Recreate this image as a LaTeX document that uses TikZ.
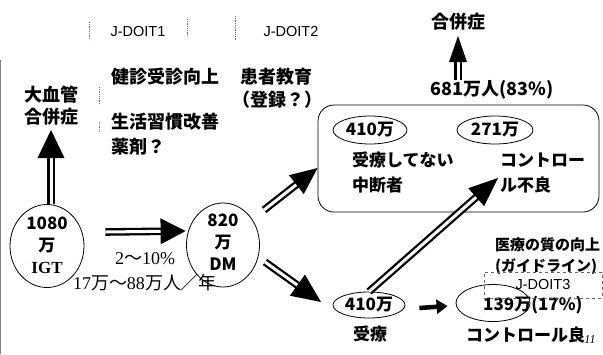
\documentclass[tikz,border=0pt]{standalone}
\usepackage{fontspec}
\setmainfont{Liberation Sans}
\newfontfamily\jp{Noto Sans CJK JP}
\newfontfamily\ser{Liberation Serif}
\usetikzlibrary{shapes.geometric,arrows.meta,calc}
\newcommand\DblArrow[4]{%
  \draw[shaft, shorten >=#3-2pt] (#1) -- (#2);
  \coordinate (tmpB) at ($(#2)!#3!(#1)$);
  \fill (#2) -- ($(tmpB)!#4/2!90:(#2)$) -- ($(tmpB)!#4/2!-90:(#2)$) -- cycle;
}
\begin{document}
\begin{tikzpicture}[x=1pt,y=-1pt,
  jt/.style={font=\jp\bfseries\fontsize{17}{22}\selectfont, inner sep=0pt},
  jl/.style={font=\jp\bfseries\fontsize{18}{22}\selectfont, inner sep=0pt},
  jm/.style={font=\jp\bfseries\fontsize{15}{18}\selectfont, inner sep=0pt},
  lt/.style={font=\fontsize{14.5}{17}\selectfont, inner sep=0pt},
  st/.style={font=\ser\fontsize{18}{20}\selectfont, inner sep=0pt},
  ell/.style={draw, ellipse, line width=0.8pt, inner sep=0pt},
  shaft/.style={draw, line width=2.3pt, double=white, double distance=3pt},
  guide/.style={draw=black!55, densely dotted, line width=0.8pt}
]
\useasboundingbox (0,0) rectangle (603,354);
\draw[black!50, line width=1pt] (0.5,60) -- (0.5,354);

% J-DOIT labels and markers
\node[lt] (jd1) at (138,32) {J-DOIT1};
\node[lt] (jd2) at (291,32) {J-DOIT2};
\draw[guide] (89,22) -- (89,40);
\draw[guide] (187,19) -- (187,37);
\draw[guide] (235,16) -- (235,40);
\draw[guide] (99,87) -- (99,105);
\draw[guide] (99,122) -- (99,132);

% top texts
\node[jl, anchor=west] (kenshin) at (111,77) {健診受診向上};
\node[jl, anchor=west] (seikatsu) at (111,122) {生活習慣改善};
\node[jl, anchor=west] (yakuzai) at (111,147) {薬剤？};
\node[jl, anchor=west] (kanja) at (240,77) {患者教育};
\node[jl, anchor=west] (touroku) at (232,100) {（登録？）};
\node[jl] (dai) at (51,95) {大血管};
\node[jl] (gap1) at (51,117) {合併症};
\node[jl] (gap2) at (458,22) {合併症};
\node[jl] (n681) at (492,90) {681万人(83\%)};

% left ellipses
\node[ell, minimum width=74, minimum height=83] (igt) at (47,246) {};
\node[jt, align=center] (igtt) at (47,245) {1080\\万\\{\ser IGT}};
\node[ell, minimum width=73, minimum height=84] (dm) at (223,245) {};
\node[jt, align=center] (dmt) at (223,242) {820\\万\\DM};
\node[st] (pct) at (145,259) {2{\jp ～}10\%};
\node[st] (rate) at (145,283) {17{\jp 万～}88{\jp 万人／年}};

% box
\node[draw, line width=0.8pt, rounded corners=16pt, minimum width=281, minimum height=107] (box) at (458.5,158.5) {};
\node[ell, jt, minimum width=74, minimum height=28] (e410a) at (370,130) {410万};
\node[ell, jt, minimum width=76, minimum height=28] (e271) at (495,130) {271万};
\node[jt, anchor=west] (jr) at (352,160) {受療してない};
\node[jt, anchor=west] (chudan) at (352,185) {中断者};
\node[jt, anchor=west] (ctrl1) at (500,160) {コントロー};
\node[jt, anchor=west] (ctrl2) at (500,185) {ル不良};

% bottom
\node[ell, jt, minimum width=72, minimum height=26] (e410b) at (369,305) {410万};
\node[jt] (juryo) at (370,334) {受療};
\node[ell, minimum width=74, minimum height=37] (e139) at (493,303) {};
\node[jt, anchor=west] (n139) at (483,305) {139万(17\%)};
\node[jm, anchor=west] (iryo) at (495,245) {医療の質の向上};
\node[jm, anchor=west] (guidel) at (495,267) {(ガイドライン)};
\node[draw=black!60, dashed, line width=0.7pt, minimum width=118, minimum height=26, lt] (jd3) at (543,285) {J-DOIT3};
\node[jt, anchor=west] (ctrl3) at (466,335) {コントロール良};
\node[font=\ser\itshape\fontsize{12}{13}\selectfont, inner sep=0pt] (pg) at (590,340) {11};

% arrows
\coordinate (a1s) at ([xshift=4pt]igt.north);
\coordinate (a1e) at (51,130);
\DblArrow{a1s}{a1e}{28pt}{27pt}
\coordinate (a2s) at ([shift={(21,-14)}]igt.east);
\coordinate (a2e) at ([shift={(-0.5,-14)}]dm.west);
\DblArrow{a2s}{a2e}{25pt}{26pt}
\coordinate (a3s) at (264,210);
\coordinate (a3e) at (box.west |- 0,168);
\DblArrow{a3s}{a3e}{27pt}{24pt}
\coordinate (a4s) at (265,262);
\coordinate (a4e) at (321,302);
\DblArrow{a4s}{a4e}{29pt}{26pt}
\coordinate (a5s) at (e410b.north);
\coordinate (a5e) at (498,178);
\DblArrow{a5s}{a5e}{29pt}{24pt}
\coordinate (a6s) at (n681.north -| 458,0);
\coordinate (a6e) at (458,36);
\DblArrow{a6s}{a6e}{26pt}{18pt}
\draw[line width=4.5pt, -{Triangle[length=11pt,width=14pt]}] ([shift={(14,3)}]e410b.east) -- ([shift={(-8,3)}]e139.west);
\end{tikzpicture}
\end{document}
